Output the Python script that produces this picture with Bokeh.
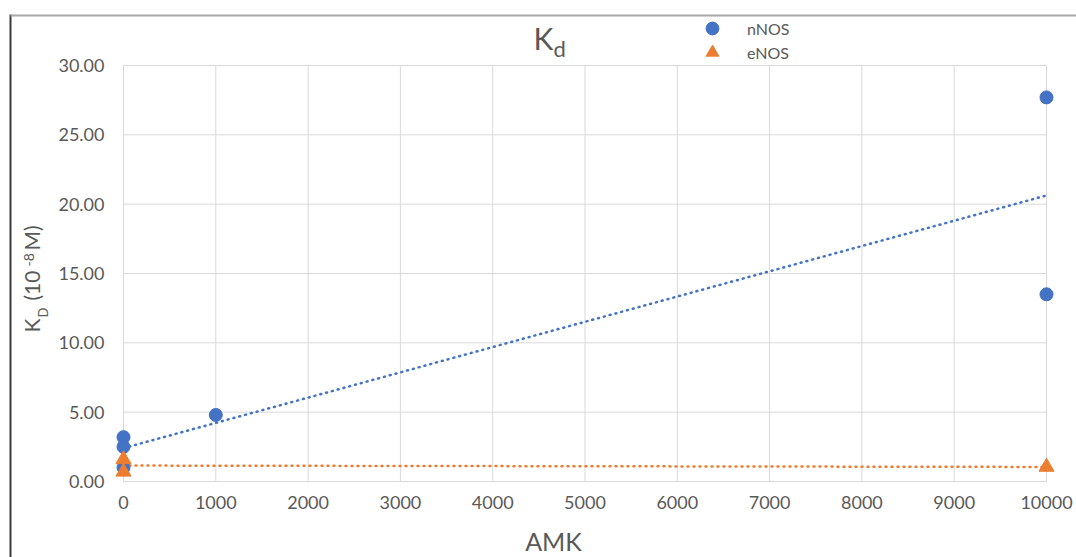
import numpy as np
from bokeh.plotting import figure
from bokeh.models import (Range1d, FixedTicker, NumeralTickFormatter, Label,
                          Legend, LegendItem, BoxAnnotation)
from bokeh.embed import file_html
from bokeh.resources import INLINE

# ---- data ----
amk_nnos = [0, 0, 0, 1000, 10000, 10000]
kd_nnos = [3.2, 2.5, 1.0, 4.8, 27.7, 13.5]
amk_enos = [0, 0, 10000]
kd_enos = [1.6, 0.7, 1.05]
x_ticks = [0, 1000, 2000, 3000, 4000, 5000, 6000, 7000, 8000, 9000, 10000]
y_ticks = [0, 5, 10, 15, 20, 25, 30]

FONT = "Lato"
GRAY = "#595959"
GRID = "#d9d9d9"
BLUE = "#4472C4"
ORANGE = "#ED7D31"

# ---- layout (pixels) ----
W, H = 1076, 557
PX_X0, PX_X1 = 123, 1046     # where x = first / last tick lies
PX_Y0, PX_Y1 = 481, 65       # where y = first / last tick lies (from top)
kx = (PX_X1 - PX_X0) / (x_ticks[-1] - x_ticks[0])
ky = (PX_Y0 - PX_Y1) / (y_ticks[-1] - y_ticks[0])
x_range = Range1d(x_ticks[0] - PX_X0 / kx, x_ticks[-1] + (W - PX_X1) / kx)
y_range = Range1d(y_ticks[0] - (H - PX_Y0) / ky, y_ticks[-1] + PX_Y1 / ky)

p = figure(width=W, height=H, output_backend="svg", toolbar_location=None,
           x_range=x_range, y_range=y_range, title=None,
           min_border=0, min_border_left=0, min_border_right=0,
           min_border_top=0, min_border_bottom=0)
p.outline_line_color = None
p.background_fill_color = "white"
p.border_fill_color = "white"
p.grid.visible = False

# axes drawn at fixed data positions inside the frame
p.xaxis.fixed_location = y_ticks[0]
p.yaxis.fixed_location = x_ticks[0]
p.xaxis.ticker = FixedTicker(ticks=x_ticks)
p.yaxis.ticker = FixedTicker(ticks=y_ticks)
p.xaxis.formatter = NumeralTickFormatter(format="0")
p.yaxis.formatter = NumeralTickFormatter(format="0.00")
for ax in (p.xaxis, p.yaxis):
    ax.major_tick_line_color = None
    ax.minor_tick_line_color = None
    ax.major_tick_in = 0
    ax.major_tick_out = 0
    ax.major_label_text_font = FONT
    ax.major_label_text_font_size = "18px"
    ax.major_label_text_color = GRAY
p.xaxis.axis_line_color = GRID
p.xaxis.bounds = (x_ticks[0], x_ticks[-1])
p.yaxis.axis_line_color = None
p.xaxis.major_label_standoff = 14
p.yaxis.major_label_standoff = 19

# grid lines limited to the plot area (from the tick lists)
nx, ny = len(x_ticks), len(y_ticks)
p.segment(x0=x_ticks, y0=[y_ticks[0]] * nx, x1=x_ticks, y1=[y_ticks[-1]] * nx,
          line_color=GRID, line_width=1)
p.segment(x0=[x_ticks[0]] * ny, y0=y_ticks, x1=[x_ticks[-1]] * ny, y1=y_ticks,
          line_color=GRID, line_width=1)

# linear trend lines (fits of the data)
for xs, ys, c in ((amk_nnos, kd_nnos, BLUE), (amk_enos, kd_enos, ORANGE)):
    m, b = np.polyfit(xs, ys, 1)
    xx = np.array([min(xs), max(xs)], dtype=float)
    p.line(xx, m * xx + b, line_color=c, line_width=2.5, line_dash="1 5",
           line_cap="round")

r1 = p.scatter(amk_nnos, kd_nnos, marker="circle", size=13, color=BLUE)
r2 = p.scatter(amk_enos, kd_enos, marker="triangle", size=15, color=ORANGE)

# legend: one entry per box so the two rows sit close together
for name, rend, loc in (("nNOS", r1, (696, 513)), ("eNOS", r2, (696, 489))):
    p.add_layout(Legend(items=[LegendItem(label=name, renderers=[rend])],
                        location=loc, padding=0, margin=0,
                        glyph_width=32, glyph_height=32, label_standoff=19,
                        border_line_color=None, background_fill_alpha=0,
                        label_text_font=FONT, label_text_font_size="16px",
                        label_text_color=GRAY))

def lab(text, x, y, size, angle=0.0, align="left"):
    p.add_layout(Label(text=text, x=x, y=y, x_units="screen", y_units="screen",
                       angle=angle, text_align=align, text_baseline="alphabetic",
                       text_font=FONT, text_font_size=size, text_color=GRAY))

# title K_d
lab("K", 533, 520, "30px")
lab("d", 553, 509, "22px")
# x-axis title
lab("AMK", 553, 17, "25px", align="center")
# y-axis title K_D (10^-8 M)
A = np.pi / 2
lab("K", 31, 225, "21px", A)
lab("D", 42, 240, "13px", A)
lab("(10", 31, 257, "21px", A)
lab("-8", 28, 291, "14px", A)
lab("M)", 31, 307, "21px", A)

# outer box lines of the original chart
p.add_layout(BoxAnnotation(left=9, right=11, top=543, bottom=0,
                           left_units="screen", right_units="screen",
                           top_units="screen", bottom_units="screen",
                           fill_color="#3a3a3a", fill_alpha=1, line_color=None))
p.add_layout(BoxAnnotation(left=10, right=W, top=543, bottom=541,
                           left_units="screen", right_units="screen",
                           top_units="screen", bottom_units="screen",
                           fill_color="#a6a6a6", fill_alpha=1, line_color=None))

open("out.html", "w").write(file_html(p, INLINE))
